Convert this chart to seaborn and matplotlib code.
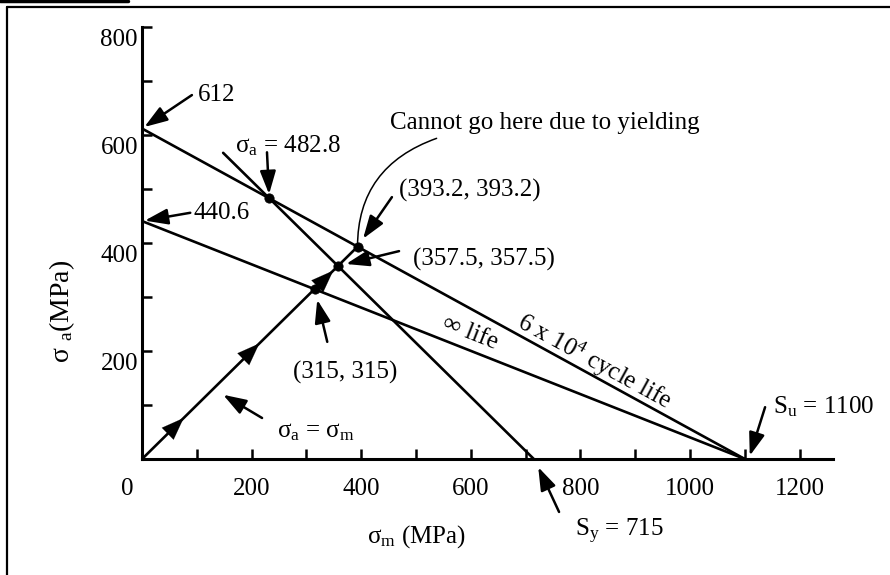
import matplotlib
matplotlib.use("Agg")
import matplotlib.pyplot as plt
import matplotlib.transforms as mtransforms
from matplotlib.lines import Line2D
import seaborn as sns

# Goodman diagram, stresses in MPa
finite_sm = [0, 1100]          # 6 x 10^4 cycle life line
finite_sa = [612, 0]
infinite_sm = [0, 1100]        # infinite life line
infinite_sa = [440.6, 0]
yield_sm = [148, 715]          # yield line
yield_sa = [567, 0]
load_sm = [0, 393.2]           # load line sigma_a = sigma_m
load_sa = [0, 393.2]
pts_sm = [232.2, 393.2, 357.5, 315]
pts_sa = [482.8, 393.2, 357.5, 315]
load_arrows = [62, 200, 335]

xticks = list(range(0, 1201, 100))
yticks = list(range(0, 801, 100))
xticklabels = [str(t) if t % 200 == 0 else "" for t in xticks]
yticklabels = [str(t) if (t % 200 == 0 and t > 0) else "" for t in yticks]

sns.set_style("ticks")
plt.rcParams["font.family"] = ["Liberation Serif", "DejaVu Serif"]
plt.rcParams["mathtext.fontset"] = "custom"
plt.rcParams["mathtext.rm"] = "Liberation Serif"
plt.rcParams["mathtext.it"] = "Liberation Serif:italic"
plt.rcParams["text.color"] = "black"

fig = plt.figure(figsize=(8.9, 5.75), dpi=100)
ax = fig.add_axes([0.1596, 0.2017, 0.7764, 0.7513])

lw = 1.9
for xs, ys in [(finite_sm, finite_sa), (infinite_sm, infinite_sa),
               (yield_sm, yield_sa), (load_sm, load_sa)]:
    sns.lineplot(x=xs, y=ys, color="black", lw=lw, sort=False, ax=ax)

sns.scatterplot(x=pts_sm, y=pts_sa, color="black", s=45, edgecolor="black",
                zorder=5, ax=ax)

# direction arrows along the load line
for p in load_arrows:
    ax.annotate("", xy=(p + 14, p + 14), xytext=(p - 14, p - 14),
                arrowprops=dict(arrowstyle="-|>,head_length=0.8,head_width=0.3",
                                color="black", lw=0.1, mutation_scale=20,
                                shrinkA=0, shrinkB=0))

ax.set_xlim(0, 1261)
ax.set_ylim(0, 800)
ax.set_xticks(xticks)
ax.set_xticklabels(xticklabels)
ax.set_yticks(yticks)
ax.set_yticklabels(yticklabels)
ax.tick_params(direction="in", length=7, width=1.8, labelsize=18, colors="black")
ax.tick_params(axis="x", pad=13.5)
ax.tick_params(axis="y", pad=3)
for s in ["top", "right"]:
    ax.spines[s].set_visible(False)
for s in ["left", "bottom"]:
    ax.spines[s].set_linewidth(2.2)
    ax.spines[s].set_color("black")

# tick labels sit a little low in the original drawing
down = mtransforms.ScaledTranslation(0, -0.10, fig.dpi_scale_trans)
for lab in ax.get_yticklabels():
    lab.set_transform(lab.get_transform() + down)
left = mtransforms.ScaledTranslation(-0.15, 0, fig.dpi_scale_trans)
ax.get_xticklabels()[0].set_transform(ax.get_xticklabels()[0].get_transform() + left)

fs = 18


def note(text, tip, tail, pos, shrink=0):
    ax.annotate("", xy=tip, xytext=tail, annotation_clip=False,
                arrowprops=dict(arrowstyle="-|>,head_length=0.7,head_width=0.24",
                                color="black", lw=1.8, mutation_scale=20,
                                shrinkA=0, shrinkB=shrink))
    ax.text(pos[0], pos[1], text, ha="left", va="center", fontsize=fs,
            color="black", clip_on=False)


note("612", (0, 612), (91, 674), (102, 674), shrink=2)
note("440.6", (0, 440.6), (88, 456), (93, 456), shrink=2)
note("σ$_\\mathrm{a}$ = 482.8", (232.2, 482.8), (228, 568), (170, 581), shrink=3)
note("(393.2, 393.2)", (393.2, 393.2), (456, 485), (469, 498), shrink=7)
note("(357.5, 357.5)", (357.5, 357.5), (469, 385), (495, 369), shrink=6)
note("(315, 315)", (315, 315), (338, 217), (276, 161), shrink=8)
note("σ$_\\mathrm{a}$ = σ$_\\mathrm{m}$", (148, 119), (219, 76), (246, 50))
note("S$_\\mathrm{u}$ = 1100", (1109, 6), (1137, 96), (1151, 96))
note("S$_\\mathrm{y}$ = 715", (723, -15), (761, -98), (790, -135))

ax.annotate("Cannot go here due to yielding", xy=(393.2, 393.2),
            xytext=(453, 622), fontsize=fs, ha="left", va="center",
            color="black",
            arrowprops=dict(arrowstyle="-", color="black", lw=1.1,
                            shrinkA=2, shrinkB=0,
                            connectionstyle="angle3,angleA=0,angleB=90"))

ax.text(599, 233, "∞ life", fontsize=fs, rotation=-21.5, color="black",
        rotation_mode="anchor", ha="center", va="center")
ax.text(825, 180, "6 x 10$^4$ cycle life", fontsize=fs, rotation=-28.7,
        color="black", rotation_mode="anchor", ha="center", va="center")

ax.text(411, -144, "σ$_\\mathrm{m}$ (MPa)", fontsize=fs, ha="left",
        va="center", color="black", clip_on=False)
ax.text(-146, 274, "σ $_\\mathrm{a}$(MPa)", fontsize=20, rotation=90,
        ha="center", va="center", color="black", clip_on=False)

# frame around the figure
fig.add_artist(Line2D([7 / 890, 7 / 890], [0, 1 - 7 / 575], color="black", lw=1.6))
fig.add_artist(Line2D([7 / 890, 1], [1 - 7 / 575, 1 - 7 / 575], color="black", lw=1.6))
fig.add_artist(Line2D([0, 128 / 890], [1 - 1 / 575, 1 - 1 / 575], color="black", lw=2.5))

fig.savefig("out.png", dpi=100)
